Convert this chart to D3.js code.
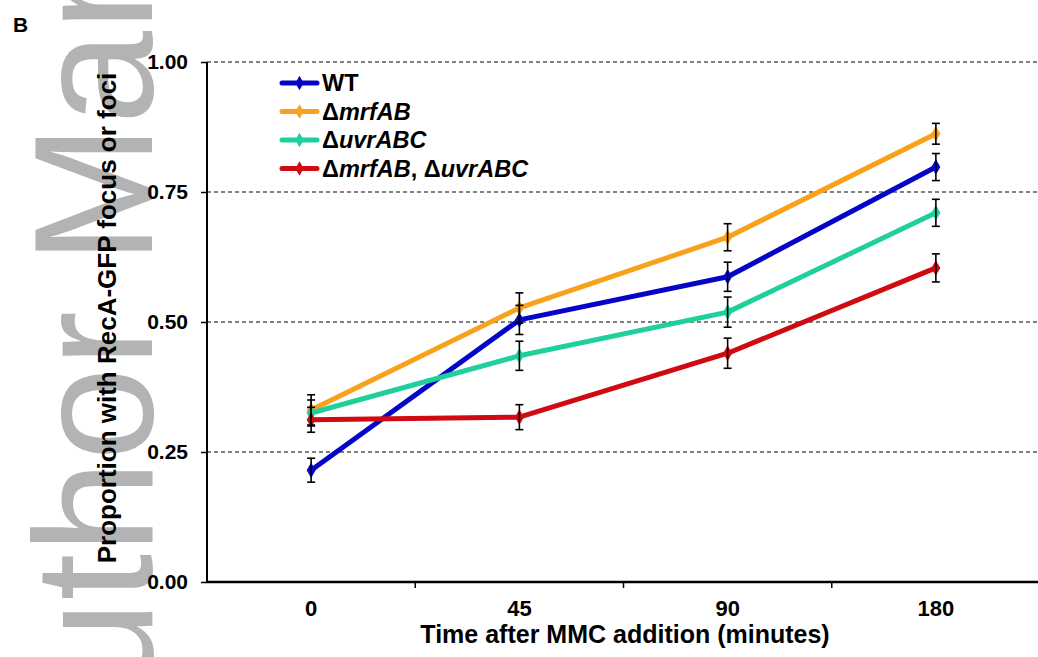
<!DOCTYPE html>
<html>
<head>
<meta charset="utf-8">
<script src="https://cdn.jsdelivr.net/npm/d3@7"></script>
<style>
  body { margin: 0; background: #fff; }
  svg { display: block; font-family: "Liberation Sans", Arial, sans-serif; }
</style>
</head>
<body>
<div id="chart"></div>
<script>
// time points (minutes after MMC addition)
var times = ["0", "45", "90", "180"];
var seriesNames = ["WT", "ΔmrfAB", "ΔuvrABC", "ΔmrfAB, ΔuvrABC"];
var seriesColors = ["#0505c8", "#f8a21c", "#1fcf9c", "#cf0a12"];

// proportions
var wt     = [0.215, 0.504, 0.587, 0.798];
var mrf    = [0.331, 0.527, 0.663, 0.862];
var uvr    = [0.325, 0.435, 0.519, 0.710];
var mrfUvr = [0.312, 0.317, 0.440, 0.604];

// error bar half-widths
var wtErr     = [0.023, 0.028, 0.028, 0.026];
var mrfErr    = [0.029, 0.029, 0.026, 0.020];
var uvrErr    = [0.025, 0.028, 0.029, 0.026];
var mrfUvrErr = [0.024, 0.024, 0.029, 0.027];

var yTicks = [0, 0.25, 0.5, 0.75, 1];

var W = 1038, H = 657;
var margin = {left: 207, top: 62};
var w = 833, h = 520;

var svg = d3.select("#chart").append("svg")
    .attr("width", W)
    .attr("height", H);

// "Author Manuscript" watermark
svg.append("text")
    .attr("transform", "translate(152,806) rotate(-90)")
    .attr("font-size", 168)
    .attr("fill", "#b3b3b3")
    .text("Author Manuscript");

svg.append("text")
    .attr("x", 13).attr("y", 32)
    .attr("font-size", 21).attr("font-weight", "bold")
    .text("B");

var g = svg.append("g").attr("transform", "translate(" + margin.left + "," + margin.top + ")");

var x = d3.scaleBand().domain(times).range([0, w]);
var y = d3.scaleLinear().domain([0, 1]).range([h, 0]);
var cx = function(d) { return x(d) + x.bandwidth() / 2; };

// dashed gridlines
g.selectAll(".grid")
    .data(yTicks.filter(function(d) { return d > 0; }))
    .enter().append("line")
    .attr("x1", 0).attr("x2", w + 10)
    .attr("y1", function(d) { return y(d); })
    .attr("y2", function(d) { return y(d); })
    .attr("stroke", "#000")
    .attr("stroke-width", 1)
    .attr("stroke-dasharray", "4,3");

// y axis
var yAxis = g.append("g")
    .call(d3.axisLeft(y).tickValues(yTicks).tickFormat(d3.format(".2f")).tickSize(6).tickPadding(13));
yAxis.select(".domain").attr("stroke-width", 2).attr("d", "M0," + h + "V0");
yAxis.selectAll(".tick line").attr("stroke-width", 1.5);
yAxis.selectAll("text")
    .attr("font-size", 21).attr("font-weight", "bold")
    .attr("font-family", "Liberation Sans, Arial, sans-serif")
    .attr("fill", "#000");

// x axis
var xAxis = g.append("g")
    .attr("transform", "translate(0," + h + ")")
    .call(d3.axisBottom(x).tickSize(0).tickPadding(18));
xAxis.select(".domain").attr("stroke-width", 2.5).attr("d", "M0,0H" + (w + 10));
xAxis.selectAll("text")
    .attr("font-size", 22).attr("font-weight", "bold")
    .attr("font-family", "Liberation Sans, Arial, sans-serif")
    .attr("fill", "#000");
// ticks between categories
xAxis.selectAll(".sep")
    .data(times.slice(1))
    .enter().append("line")
    .attr("x1", function(d) { return x(d); })
    .attr("x2", function(d) { return x(d); })
    .attr("y1", 0).attr("y2", 6)
    .attr("stroke", "#000").attr("stroke-width", 1.5);

// axis titles
svg.append("text")
    .attr("x", 625).attr("y", 643)
    .attr("text-anchor", "middle")
    .attr("font-size", 25).attr("font-weight", "bold")
    .text("Time after MMC addition (minutes)");

svg.append("text")
    .attr("transform", "translate(116,318) rotate(-90)")
    .attr("text-anchor", "middle")
    .attr("font-size", 26).attr("font-weight", "bold")
    .text("Proportion with RecA-GFP focus or foci");

var allVals = [wt, mrf, uvr, mrfUvr];
var allErr = [wtErr, mrfErr, uvrErr, mrfUvrErr];
var series = seriesNames.map(function(name, i) {
    return {
        name: name, color: seriesColors[i],
        pts: times.map(function(t, j) { return {t: t, v: allVals[i][j], e: allErr[i][j]}; })
    };
});

var line = d3.line()
    .x(function(d) { return cx(d.t); })
    .y(function(d) { return y(d.v); });

var sg = g.selectAll(".series").data(series).enter().append("g");
sg.append("path")
    .attr("d", function(d) { return line(d.pts); })
    .attr("fill", "none")
    .attr("stroke", function(d) { return d.color; })
    .attr("stroke-width", 5)
    .attr("stroke-linejoin", "round");
sg.selectAll(".mk")
    .data(function(d) { return d.pts.map(function(p) { return {p: p, c: d.color}; }); })
    .enter().append("path")
    .attr("d", d3.symbol().type(d3.symbolDiamond).size(70))
    .attr("transform", function(d) { return "translate(" + cx(d.p.t) + "," + y(d.p.v) + ")"; })
    .attr("fill", function(d) { return d.c; });

// error bars on top
var eb = g.selectAll(".eb")
    .data(d3.merge(series.map(function(s) { return s.pts; })))
    .enter().append("g")
    .attr("stroke", "#000").attr("stroke-width", 1.6);
eb.append("line")
    .attr("x1", function(d) { return cx(d.t); }).attr("x2", function(d) { return cx(d.t); })
    .attr("y1", function(d) { return y(d.v + d.e); }).attr("y2", function(d) { return y(d.v - d.e); });
eb.append("line")
    .attr("x1", function(d) { return cx(d.t) - 4; }).attr("x2", function(d) { return cx(d.t) + 4; })
    .attr("y1", function(d) { return y(d.v + d.e); }).attr("y2", function(d) { return y(d.v + d.e); });
eb.append("line")
    .attr("x1", function(d) { return cx(d.t) - 4; }).attr("x2", function(d) { return cx(d.t) + 4; })
    .attr("y1", function(d) { return y(d.v - d.e); }).attr("y2", function(d) { return y(d.v - d.e); });

// legend
var leg = svg.append("g").attr("transform", "translate(282,83)");
var li = leg.selectAll(".li").data(series).enter().append("g")
    .attr("transform", function(d, i) { return "translate(0," + (i * 28.5) + ")"; });
li.append("line")
    .attr("x1", 0).attr("x2", 35).attr("y1", 0).attr("y2", 0)
    .attr("stroke", function(d) { return d.color; })
    .attr("stroke-width", 5).attr("stroke-linecap", "round");
li.append("path")
    .attr("d", d3.symbol().type(d3.symbolDiamond).size(60))
    .attr("transform", "translate(17.5,0)")
    .attr("fill", function(d) { return d.color; });
var lt = li.append("text")
    .attr("x", 40).attr("y", 8)
    .attr("font-size", 23.5).attr("font-weight", "bold");
lt.each(function(d) {
    var t = d3.select(this);
    // italic gene names, upright Δ
    d.name.split(/(Δ[A-Za-z]+)/).forEach(function(part) {
        if (!part) return;
        if (part[0] === "Δ") {
            t.append("tspan").text("Δ");
            t.append("tspan").attr("font-style", "italic").text(part.slice(1));
        } else {
            t.append("tspan").text(part);
        }
    });
});
</script>
</body>
</html>
